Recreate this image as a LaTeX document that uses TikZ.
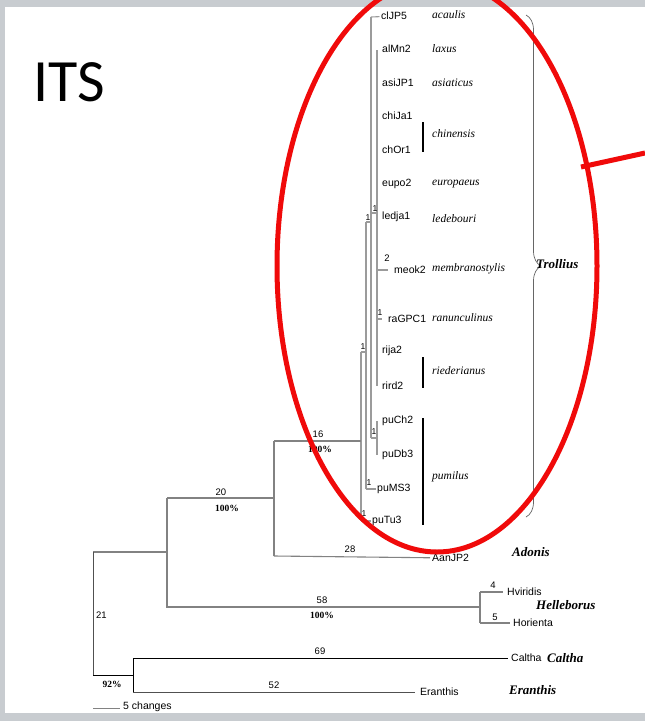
\documentclass[tikz,border=0pt]{standalone}
\usepackage{fontspec}
\setmainfont{Liberation Serif}
\setsansfont{Liberation Sans}
\newfontfamily\calib{Carlito}
\usetikzlibrary{decorations.pathreplacing}
\definecolor{framegray}{RGB}{200,204,208}
\definecolor{lgray}{RGB}{155,155,155}
\definecolor{mgray}{RGB}{130,130,130}
\definecolor{dgray}{RGB}{80,80,80}
\definecolor{ellred}{RGB}{240,10,10}
\tikzset{
 tl/.style={draw=lgray, line width=1.1pt},
 ml/.style={draw=mgray, line width=1.1pt},
 bl/.style={draw=black, line width=0.9pt},
 leaf/.style={font=\sffamily\fontsize{10.5}{12}\selectfont, anchor=west, inner sep=0pt},
 sp/.style={font=\itshape\fontsize{11.5}{13}\selectfont, anchor=west, inner sep=0pt, text=black},
 num/.style={font=\sffamily\fontsize{9.5}{11}\selectfont, inner sep=0pt},
 small/.style={font=\sffamily\fontsize{8.5}{10}\selectfont, inner sep=0pt},
 pct/.style={font=\bfseries\fontsize{9.5}{11}\selectfont, inner sep=0pt},
 genus/.style={font=\bfseries\itshape\fontsize{13}{15}\selectfont, anchor=west, inner sep=0pt},
 bar/.style={draw=black, line width=1.4pt},
}
\begin{document}
\begin{tikzpicture}[x=1pt,y=-1pt]
\useasboundingbox (0,0) rectangle (645,721);
\fill[framegray] (0,0) rectangle (645,721);
\fill[white] (5,7) rectangle (646,713);

% title
\node[font=\calib\fontsize{60}{60}\selectfont, inner sep=0pt] (its) at (69,82) {ITS};

% Trollius leaves
\node[leaf] (clJP5) at (381,16) {clJP5};
\node[leaf] (alMn2) at (382,49) {alMn2};
\node[leaf] (asiJP1) at (382,83) {asiJP1};
\node[leaf] (chiJa1) at (382,116) {chiJa1};
\node[leaf] (chOr1) at (382,150) {chOr1};
\node[leaf] (eupo2) at (382,184) {eupo2};
\node[leaf] (ledja1) at (382,217) {ledja1};
\node[leaf] (meok2) at (394,270) {meok2};
\node[leaf] (raGPC1) at (388,319) {raGPC1};
\node[leaf] (rija2) at (382,351) {rija2};
\node[leaf] (rird2) at (382,386) {rird2};
\node[leaf] (puCh2) at (382,421) {puCh2};
\node[leaf] (puDb3) at (382,455) {puDb3};
\node[leaf] (puMS3) at (377,489) {puMS3};
\node[leaf] (puTu3) at (372,521) {puTu3};

% species names
\node[sp] (acaulis) at (432,15) {acaulis};
\node[sp] (laxus) at (432,49) {laxus};
\node[sp] (asiaticus) at (432,83) {asiaticus};
\node[sp] (chinensis) at (432,134) {chinensis};
\node[sp] (europaeus) at (432,184) {europaeus};
\node[sp] (ledebouri) at (432,219) {ledebouri};
\node[sp] (membran) at (432,269) {membranostylis};
\node[sp] (ranunc) at (432,318) {ranunculinus};
\node[sp] (rieder) at (432,371) {riederianus};
\node[sp] (pumilus) at (432,477) {pumilus};

% species bars
\coordinate (chb1) at (423,122); \coordinate (chb2) at (423,152);
\coordinate (rib1) at (423,357); \coordinate (rib2) at (423,388);
\coordinate (pub1) at (423,418); \coordinate (pub2) at (423,525);
\draw[bar] (chb1) -- (chb2);
\draw[bar] (rib1) -- (rib2);
\draw[bar] (pub1) -- (pub2);

% Trollius internal structure
\coordinate (a1) at (361,352); \coordinate (a2) at (361,521);
\coordinate (b0) at (366,352); \coordinate (b1) at (366,222); \coordinate (b2) at (366,489);
\coordinate (c0) at (371,222); \coordinate (c1) at (371,17); \coordinate (c2) at (371,438);
\coordinate (d0) at (377,438); \coordinate (d1) at (377,421); \coordinate (d2) at (377,455);
\coordinate (e0) at (371,213); \coordinate (e1) at (377,213);
\coordinate (e2) at (377,50); \coordinate (e3) at (377,386);
\coordinate (m0) at (377,270); \coordinate (r0t) at (377,319);

\draw[tl] (a1) -- (a2);
\draw[tl, shorten >=1.5pt] (a2) -- (puTu3);
\draw[tl] (a1) -- (b0);
\draw[tl] (b1) -- (b2);
\draw[tl, shorten >=1.5pt] (b2) -- (puMS3);
\draw[tl] (b1) -- (c0);
\draw[tl] (c1) -- (c2);
\draw[tl, shorten >=1.5pt] (c1) -- (clJP5);
\draw[tl] (c2) -- (d0);
\draw[tl] (d1) -- (d2);
\draw[tl] (e0) -- (e1);
\draw[tl] (e2) -- (e3);
\draw[tl, shorten >=6pt] (m0) -- (meok2);
\draw[tl, shorten >=6pt] (r0t) -- (raGPC1);

\node[small] (n1a) at (363,347) {1};
\node[small] (n1b) at (368,218) {1};
\node[small] (n1c) at (375,209) {1};
\node[small] (n1d) at (374,432) {1};
\node[small] (n1e) at (369,483) {1};
\node[small] (n1f) at (364,514) {1};
\node[small] (n1g) at (380,313) {1};
\node[num] (n2) at (387,258) {2};

% Trollius brace
\coordinate (brt) at (526,15); \coordinate (brb) at (526,517);
\draw[black!60, line width=0.7pt, decorate, decoration={brace, amplitude=15pt}] (brt) -- (brb);
\node[genus] (trollius) at (536,264) {Trollius};

% 16 branch
\coordinate (r16) at (274,441); \coordinate (a16) at (361,441);
\draw[ml] (r16) -- (a16);
\node[num] (l16) at (318,434) {16};
\node[pct] (p16) at (320,449) {100\%};

% Adonis
\coordinate (ad1) at (274,556);
\node[leaf] (AanJP2) at (432,558) {AanJP2};
\draw[ml] (r16) -- (ad1);
\draw[ml, shorten >=2pt] (ad1) -- (AanJP2);
\node[num] (l28) at (350,549) {28};
\node[genus] (adonis) at (512,552) {Adonis};

% 20 branch
\coordinate (h0) at (167,498); \coordinate (t20) at (274,498);
\draw[ml] (h0) -- (t20);
\node[num] (l20) at (221,492) {20};
\node[pct] (p20) at (227,508) {100\%};

% Helleborus
\coordinate (h1) at (167,607); \coordinate (hv) at (480,607);
\coordinate (hv1) at (480,592); \coordinate (hv2) at (480,623);
\node[leaf] (Hviridis) at (507,592) {Hviridis};
\node[leaf] (Horienta) at (513,623) {Horienta};
\draw[ml] (h0) -- (h1) -- (hv);
\draw[ml] (hv1) -- (hv2);
\draw[ml, shorten >=4pt] (hv1) -- (Hviridis);
\draw[ml, shorten >=3pt] (hv2) -- (Horienta);
\node[num] (l58) at (322,600) {58};
\node[pct] (p58) at (322,615) {100\%};
\node[num] (l4) at (493,585) {4};
\node[num] (l5) at (495,617) {5};
\node[genus] (helleb) at (536,605) {Helleborus};

% root
\coordinate (r0) at (93,552); \coordinate (rm) at (167,552);
\coordinate (r1) at (93,675); \coordinate (k0) at (133,675);
\coordinate (k1) at (133,658); \coordinate (k2) at (133,692);
\draw[ml] (r0) -- (rm);
\draw[draw=dgray, line width=0.9pt] (r0) -- (r1);
\draw[bl] (r1) -- (k0);
\draw[bl] (k1) -- (k2);
\node[leaf] (Caltha) at (511,658) {Caltha};
\node[leaf] (Eranthis) at (420,692) {Eranthis};
\draw[bl, shorten >=3pt] (k1) -- (Caltha);
\draw[draw=dgray, line width=0.9pt, shorten >=5pt] (k2) -- (Eranthis);
\node[num, anchor=west] (l21) at (96,615) {21};
\node[pct] (p92) at (112,684) {92\%};
\node[num] (l69) at (320,651) {69};
\node[num] (l52) at (274,685) {52};
\node[genus] (caltha) at (547,658) {Caltha};
\node[genus] (eranthis) at (509,690) {Eranthis};

% scale bar
\coordinate (s0) at (93,708); \coordinate (s1) at (120,708);
\draw[draw=mgray, line width=0.9pt] (s0) -- (s1);
\node[leaf] (scale) at (123,707) {5 changes};

% red annotation
\draw[ellred, line width=5pt] (437,266) ellipse [x radius=160, y radius=286];
\coordinate (rl0) at (581,167); \coordinate (rl1) at (645,153);
\draw[ellred, line width=5pt] (rl0) -- (rl1);
\end{tikzpicture}
\end{document}
